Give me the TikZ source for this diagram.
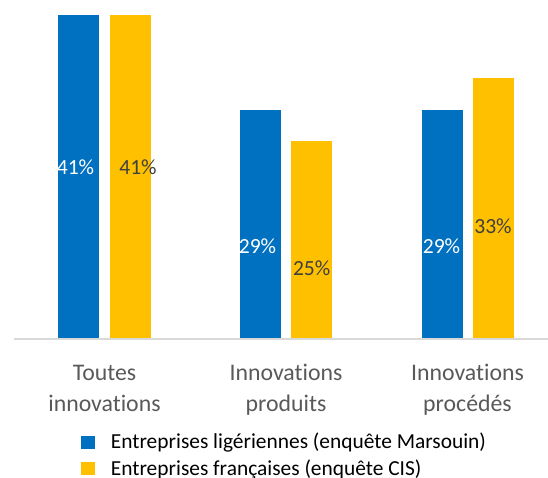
\documentclass[tikz,border=0pt]{standalone}
\usepackage{fontspec}
\setmainfont{Carlito}[Ligatures=NoCommon]
\usepackage{xcolor}
\definecolor{barblue}{HTML}{0070C0}
\definecolor{baryellow}{HTML}{FFC000}
\definecolor{axisgray}{HTML}{D9D9D9}
\definecolor{catgray}{HTML}{595959}
\definecolor{valgray}{HTML}{404040}

\begin{document}
\begin{tikzpicture}[
  x=0.5pt,
  y=0.5pt]
\tikzset{
  valuelabel/.style={font=\fontsize{10.8}{13}\selectfont, inner sep=0pt},
  catlabel/.style={font=\fontsize{11.9}{15.5}\selectfont, text=catgray,
    align=center, inner sep=0pt, anchor=base},
  legendlabel/.style={font=\fontsize{10.7}{13}\selectfont, inner sep=0pt,
    anchor=base west},
}
\useasboundingbox (0,0) rectangle (548,478);

% bars, 7.9 units per percent above the axis
\foreach \x/\h in {58/41, 240/29, 422/29}
  \fill[barblue] (\x,139) rectangle ++(41,\h*7.9);
\foreach \x/\h in {110/41, 291.5/25, 473/33}
  \fill[baryellow] (\x,139) rectangle ++(41,\h*7.9);

\draw[
  axisgray,
  line width=0.75pt] (14,139) -- (548,139);

% values
\node[valuelabel, text=white] (ligA) at (75.5,311) {41\%};
\node[valuelabel, text=valgray] (fraA) at (138,311) {41\%};
\node[valuelabel, text=white] (ligB) at (257.5,231.3) {29\%};
\node[valuelabel, text=valgray] (fraB) at (311.7,210) {25\%};
\node[valuelabel, text=white] (ligC) at (441.5,231.3) {29\%};
\node[valuelabel, text=valgray] (fraC) at (493,251.3) {33\%};

% categories (base = last line)
\node[catlabel] (toutes) at (104.5,67) {Toutes\\innovations};
\node[catlabel] (produits) at (286,67) {Innovations\\produits};
\node[catlabel] (procedes) at (467.5,67) {Innovations\\procédés};

% legend
\fill[barblue] (81,29) rectangle ++(14.5,12.5);
\fill[baryellow] (81,3) rectangle ++(14.5,12.5);
\node[legendlabel] (legLig) at (110.5,29) {Entreprises ligériennes (enquête Marsouin)};
\node[legendlabel] (legFra) at (110.5,3) {Entreprises françaises (enquête CIS)};
\end{tikzpicture}
\end{document}
